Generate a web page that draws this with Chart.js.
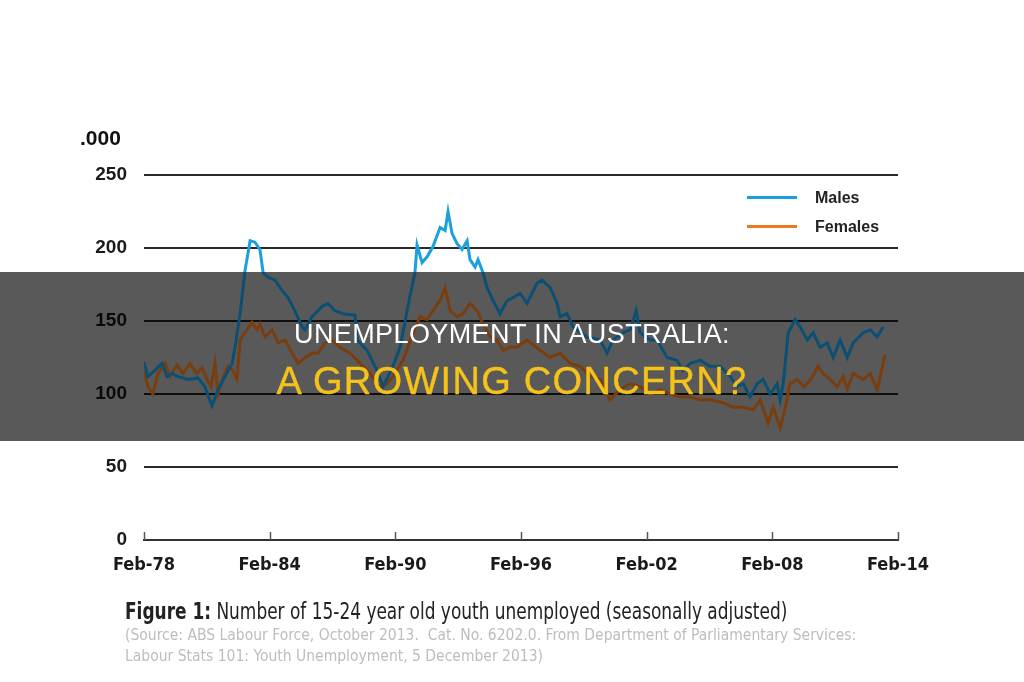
<!DOCTYPE html>
<html>
<head>
<meta charset="utf-8">
<script src="https://cdn.jsdelivr.net/npm/chart.js@4.4.0/dist/chart.umd.min.js"></script>
<style>
  body { margin: 0; background: #fff; width: 1024px; height: 682px; overflow: hidden; position: relative; font-family: "Liberation Sans", Arial, sans-serif; }
  #chart { position: absolute; left: 0; top: 0; }
  .unit { position: absolute; left: 80px; top: 126px; font: bold 21px "Liberation Sans", Arial, sans-serif; color: #111; }
  .legend { position: absolute; left: 747px; top: 183px; font: bold 16px "Liberation Sans", Arial, sans-serif; color: #222; }
  .legend div { height: 29px; display: flex; align-items: center; }
  .legend span.swatch { display: inline-block; width: 50px; height: 3.5px; margin-right: 18px; }
  .titles { position: absolute; left: 0; top: 272px; width: 1024px; height: 169px; text-align: center; }
  .t1 { position: absolute; left: 0; width: 1024px; top: 47px; color: #fff; font: 27px "Liberation Sans", Arial, sans-serif; letter-spacing: 0.4px; }
  .t2 { position: absolute; left: 0; width: 1024px; top: 88px; color: #f5c21b; font: 38px "Liberation Sans", Arial, sans-serif; letter-spacing: 1.3px; -webkit-text-stroke: 0.4px #f5c21b; }
  .caption { position: absolute; left: 125px; top: 598px; font-family: "Liberation Sans Narrow", "DejaVu Sans Condensed", sans-serif; }
  .caption .c1 { font-size: 23px; color: #222; white-space: nowrap; transform: scaleX(0.82); transform-origin: 0 0; }
  .caption .c2 { font-size: 15.5px; color: #bdbdbd; line-height: 21px; margin-top: 1px; white-space: nowrap; }
</style>
</head>
<body>
<canvas id="chart" width="1024" height="682"></canvas>
<div class="unit">.000</div>
<div class="legend" id="legend"></div>
<div class="titles">
  <div class="t1">UNEMPLOYMENT IN AUSTRALIA:</div>
  <div class="t2">A GROWING CONCERN?</div>
</div>
<div class="caption">
  <div class="c1"><b>Figure 1:</b> Number of 15-24 year old youth unemployed (seasonally adjusted)</div>
  <div class="c2">(Source: ABS Labour Force, October 2013.&nbsp; Cat. No. 6202.0. From Department of Parliamentary Services:<br>Labour Stats 101: Youth Unemployment, 5 December 2013)</div>
</div>
<script>
// 시리즈 이름과 색 (띠 바깥 / 띠 안쪽)
const seriesNames = ['Males', 'Females'];
const seriesColors = ['#1ba0de', '#ec7a1f'];
const seriesDimColors = ['#0b4f74', '#7a3d0e'];

// 남성 (천 명), 소수 연도
const maleYears = [1978.08, 1978.27, 1978.51, 1978.94, 1979.18, 1979.42, 1979.71, 1980.18, 1980.66, 1980.99,
  1981.33, 1981.62, 1981.95, 1982.29, 1982.43, 1982.67, 1982.91, 1983.15, 1983.38, 1983.62,
  1983.77, 1984.0, 1984.34, 1984.67, 1984.96, 1985.29, 1985.63, 1985.77, 1986.11, 1986.58,
  1986.87, 1987.2, 1987.59, 1988.16, 1988.26, 1988.73, 1989.21, 1989.5, 1989.97, 1990.31,
  1990.78, 1991.02, 1991.12, 1991.36, 1991.6, 1991.88, 1992.22, 1992.46, 1992.6, 1992.79,
  1993.03, 1993.27, 1993.51, 1993.65, 1993.89, 1994.03, 1994.27, 1994.46, 1994.75, 1995.08,
  1995.42, 1995.7, 1996.04, 1996.37, 1996.85, 1997.09, 1997.47, 1997.81, 1997.95, 1998.28,
  1998.57, 1999.24, 1999.86, 2000.19, 2000.48, 2000.96, 2001.29, 2001.58, 2001.77, 2002.25,
  2002.58, 2003.06, 2003.54, 2003.82, 2004.16, 2004.64, 2005.11, 2005.59, 2006.07, 2006.4,
  2006.69, 2007.02, 2007.36, 2007.64, 2007.98, 2008.31, 2008.46, 2008.6, 2008.84, 2009.17,
  2009.41, 2009.75, 2010.03, 2010.37, 2010.7, 2010.99, 2011.32, 2011.66, 2011.94, 2012.42,
  2012.76, 2013.09, 2013.38];
const maleValues = [122, 112, 115, 121, 112, 114, 112, 110, 111, 105,
  92, 103, 112, 121, 132, 155, 185, 205, 204, 199,
  183, 180, 178, 171, 166, 157, 146, 144, 153, 160,
  162, 157, 155, 154, 137, 130, 116, 105, 119, 132,
  167, 183, 202, 190, 194, 201, 214, 212, 225, 210,
  203, 199, 205, 192, 187, 192, 183, 173, 164, 155,
  164, 166, 169, 162, 176, 178, 173, 162, 153, 155,
  146, 139, 137, 128, 137, 142, 144, 157, 142, 137,
  137, 125, 123, 116, 121, 123, 119, 119, 112, 105,
  107, 98, 107, 110, 100, 107, 96, 107, 142, 151,
  146, 137, 142, 132, 135, 125, 137, 125, 135, 142,
  144, 139, 146];

// 여성 (천 명)
const femaleYears = [1978.08, 1978.27, 1978.51, 1978.75, 1979.09, 1979.32, 1979.66, 1979.95, 1980.28, 1980.61,
  1980.85, 1981.09, 1981.28, 1981.47, 1981.62, 1981.86, 1982.1, 1982.33, 1982.52, 1982.67,
  1983.0, 1983.24, 1983.48, 1983.62, 1983.86, 1984.2, 1984.48, 1984.82, 1985.15, 1985.44,
  1985.77, 1986.11, 1986.39, 1986.73, 1987.06, 1987.44, 1987.92, 1988.4, 1988.88, 1989.35,
  1989.69, 1989.97, 1990.45, 1990.93, 1991.26, 1991.6, 1991.88, 1992.22, 1992.46, 1992.7,
  1993.03, 1993.32, 1993.65, 1993.99, 1994.27, 1994.61, 1994.94, 1995.23, 1995.56, 1995.9,
  1996.37, 1996.99, 1997.47, 1997.95, 1998.43, 1998.9, 1999.38, 1999.86, 2000.33, 2000.81,
  2001.29, 2001.77, 2002.25, 2002.73, 2003.2, 2003.68, 2004.16, 2004.64, 2005.11, 2005.73,
  2006.21, 2006.69, 2007.17, 2007.5, 2007.88, 2008.12, 2008.46, 2008.7, 2008.93, 2009.27,
  2009.6, 2009.93, 2010.27, 2010.51, 2010.84, 2011.18, 2011.47, 2011.66, 2011.94, 2012.42,
  2012.76, 2013.09, 2013.23, 2013.47];
const femaleValues = [116, 105, 100, 114, 121, 112, 120, 114, 121, 114,
  118, 110, 105, 121, 100, 112, 119, 116, 110, 137,
  144, 149, 144, 148, 139, 144, 135, 137, 128, 121,
  125, 128, 128, 135, 137, 132, 128, 121, 114, 105,
  107, 112, 123, 142, 153, 151, 157, 164, 173, 157,
  153, 155, 162, 157, 148, 139, 137, 130, 132, 132,
  137, 130, 125, 128, 121, 119, 112, 110, 96, 103,
  107, 105, 100, 103, 100, 98, 98, 96, 96, 94,
  91, 91, 89, 96, 80, 91, 77, 91, 107, 110,
  105, 110, 119, 114, 110, 105, 112, 103, 114, 110,
  114, 103, 112, 127];

// 축 눈금
const xTickYears = [1978.083, 1984.083, 1990.083, 1996.083, 2002.083, 2008.083, 2014.083];
const xTickLabels = ['Feb-78', 'Feb-84', 'Feb-90', 'Feb-96', 'Feb-02', 'Feb-08', 'Feb-14'];
const yTicks = [0, 50, 100, 150, 200, 250];

// 제목 띠 위치 (픽셀)
const bandTop = 272;
const bandBottom = 441;

// 범례
const legendEl = document.getElementById('legend');
seriesNames.forEach(function(name, i) {
    const row = document.createElement('div');
    row.innerHTML = '<span class="swatch" style="background:' + seriesColors[i] + '"></span>' + name;
    legendEl.appendChild(row);
});

function toPoints(xs, ys) {
    return xs.map(function(x, i) { return { x: x, y: ys[i] }; });
}

// 띠 안쪽에서는 어두운 색
function bandGradient(context, i) {
    const c = context.chart.ctx;
    const h = context.chart.height;
    const g = c.createLinearGradient(0, 0, 0, h);
    g.addColorStop(0, seriesColors[i]);
    g.addColorStop(bandTop / h, seriesColors[i]);
    g.addColorStop(bandTop / h, seriesDimColors[i]);
    g.addColorStop(bandBottom / h, seriesDimColors[i]);
    g.addColorStop(bandBottom / h, seriesColors[i]);
    g.addColorStop(1, seriesColors[i]);
    return g;
}

// 회색 띠 + x축 안쪽 눈금
const bandPlugin = {
    id: 'bandPlugin',
    beforeDatasetsDraw: function(chart) {
        const ctx = chart.ctx;
        ctx.save();
        ctx.fillStyle = 'rgba(0,0,0,0.65)';
        ctx.fillRect(0, bandTop, chart.width, bandBottom - bandTop);
        ctx.restore();
    },
    afterDraw: function(chart) {
        const ctx = chart.ctx;
        const xs = chart.scales.x;
        const bottom = chart.chartArea.bottom;
        ctx.save();
        ctx.strokeStyle = '#555';
        ctx.lineWidth = 1.5;
        xTickYears.forEach(function(v) {
            const px = Math.round(xs.getPixelForValue(v)) + 0.5;
            ctx.beginPath();
            ctx.moveTo(px, bottom);
            ctx.lineTo(px, bottom - 8);
            ctx.stroke();
        });
        ctx.restore();
    }
};

const ctx = document.getElementById('chart').getContext('2d');
new Chart(ctx, {
    type: 'line',
    data: {
        datasets: [
            {
                label: seriesNames[0],
                data: toPoints(maleYears, maleValues),
                borderColor: function(c) { return bandGradient(c, 0); },
                borderWidth: 3,
                pointRadius: 0,
                tension: 0
            },
            {
                label: seriesNames[1],
                data: toPoints(femaleYears, femaleValues),
                borderColor: function(c) { return bandGradient(c, 1); },
                borderWidth: 3,
                pointRadius: 0,
                tension: 0
            }
        ]
    },
    options: {
        responsive: false,
        animation: false,
        layout: { padding: { left: 0, top: 175, right: 126, bottom: 100 } },
        scales: {
            x: {
                type: 'linear',
                min: xTickYears[0],
                max: xTickYears[xTickYears.length - 1],
                afterBuildTicks: function(scale) {
                    scale.ticks = xTickYears.map(function(v) { return { value: v }; });
                },
                afterFit: function(scale) { scale.height = 42; },
                grid: { display: false, drawTicks: false },
                border: { display: true, color: '#333', width: 2 },
                ticks: {
                    autoSkip: false,
                    maxRotation: 0,
                    padding: 15,
                    color: '#1a1a1a',
                    font: { family: '"Liberation Sans Narrow", "DejaVu Sans Condensed", sans-serif', size: 18, weight: 'bold' },
                    callback: function(v, i) { return xTickLabels[i]; }
                }
            },
            y: {
                min: 0,
                max: 250,
                afterBuildTicks: function(scale) {
                    scale.ticks = yTicks.map(function(v) { return { value: v }; });
                },
                afterFit: function(scale) { scale.width = 144; },
                grid: { color: '#2a2a2a', lineWidth: 2, drawTicks: false },
                border: { display: false },
                ticks: {
                    padding: 17,
                    color: '#1a1a1a',
                    font: { family: '"Liberation Sans", Arial, sans-serif', size: 19, weight: 'bold' }
                }
            }
        },
        plugins: {
            legend: { display: false },
            tooltip: { enabled: false }
        }
    },
    plugins: [bandPlugin]
});
</script>
</body>
</html>
